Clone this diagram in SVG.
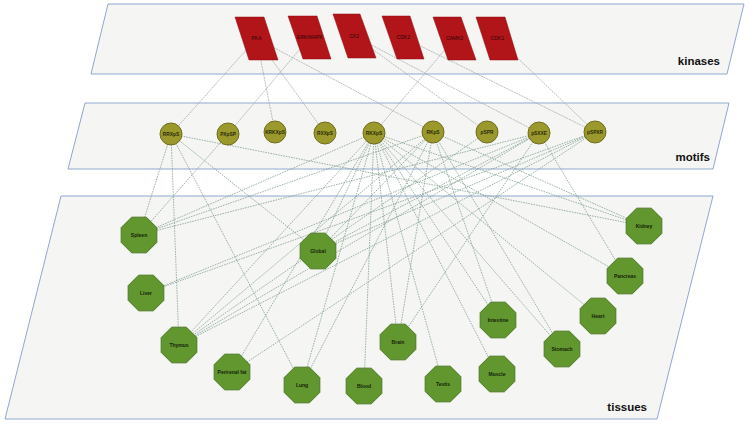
<svg xmlns="http://www.w3.org/2000/svg" xmlns:xlink="http://www.w3.org/1999/xlink" width="751" height="427" viewBox="0 0 751 427">
<style>
.plane{fill:#f5f5f3;stroke:#8fa7cf;stroke-width:1}
.layer{font-family:"Liberation Sans",Arial,sans-serif;font-weight:bold;font-size:11.5px;fill:#111;text-anchor:end}
.kin{fill:#b11419;stroke:#8e0f12;stroke-width:0.5}
.kl{font-family:"Liberation Sans",Arial,sans-serif;font-size:5px;fill:#2a0505;text-anchor:middle}
.mot{fill:#9b992c;stroke:#6f6d1e;stroke-width:1}
.ml{font-family:"Liberation Sans",Arial,sans-serif;font-weight:bold;font-size:4.8px;fill:#2a2a08;text-anchor:middle}
.tis{fill:#62962f;stroke:#4c7a26;stroke-width:1}
.tl{font-family:"Liberation Sans",Arial,sans-serif;font-weight:bold;font-size:5px;fill:#142408;text-anchor:middle}
.ke line{stroke:#9aa3a3;stroke-width:0.7;stroke-dasharray:2 0.8;fill:none}
.te line{stroke:#83a291;stroke-width:0.8;stroke-dasharray:1.6 1;fill:none}
</style>
<defs>
<polygon id="oct" points="17.83,7.39 7.39,17.83 -7.39,17.83 -17.83,7.39 -17.83,-7.39 -7.39,-17.83 7.39,-17.83 17.83,-7.39"/>
</defs>
<rect x="0" y="0" width="751" height="427" fill="#ffffff"/>
<g id="planes">
<polygon class="plane" points="108,4 744,4 727,74 91,74"/>
<polygon class="plane" points="85,103 729,103 713,169 68,169"/>
<polygon class="plane" points="61,196 713,196 657,419 5,419"/>
<text class="layer" x="720" y="65">kinases</text>
<text class="layer" x="710" y="161">motifs</text>
<text class="layer" x="647" y="411">tissues</text>
</g>
<g id="connectors">
<g class="ke">
<line x1="256.5" y1="38.5" x2="171" y2="134"/>
<line x1="256.5" y1="38.5" x2="275" y2="132"/>
<line x1="256.5" y1="38.5" x2="325" y2="133"/>
<line x1="256.5" y1="38.5" x2="433" y2="132"/>
<line x1="309.75" y1="37.5" x2="228" y2="134"/>
<line x1="354.25" y1="36" x2="487" y2="132"/>
<line x1="354.25" y1="36" x2="539" y2="133"/>
<line x1="403.25" y1="37.5" x2="595" y2="132"/>
<line x1="454.5" y1="38.5" x2="374" y2="133"/>
<line x1="497.25" y1="38.5" x2="595" y2="132"/>
</g>
<g class="te">
<line x1="171" y1="134" x2="139" y2="235"/>
<line x1="171" y1="134" x2="179" y2="345"/>
<line x1="171" y1="134" x2="302" y2="385"/>
<line x1="171" y1="134" x2="318" y2="251"/>
<line x1="171" y1="134" x2="644" y2="226"/>
<line x1="228" y1="134" x2="139" y2="235"/>
<line x1="374" y1="133" x2="139" y2="235"/>
<line x1="374" y1="133" x2="179" y2="345"/>
<line x1="374" y1="133" x2="232" y2="372"/>
<line x1="374" y1="133" x2="318" y2="251"/>
<line x1="374" y1="133" x2="302" y2="385"/>
<line x1="374" y1="133" x2="364" y2="386"/>
<line x1="374" y1="133" x2="398" y2="342"/>
<line x1="374" y1="133" x2="443" y2="384"/>
<line x1="374" y1="133" x2="497" y2="374"/>
<line x1="374" y1="133" x2="498" y2="320"/>
<line x1="374" y1="133" x2="562" y2="349"/>
<line x1="374" y1="133" x2="598" y2="316"/>
<line x1="374" y1="133" x2="625" y2="276"/>
<line x1="374" y1="133" x2="644" y2="226"/>
<line x1="433" y1="132" x2="139" y2="235"/>
<line x1="433" y1="132" x2="179" y2="345"/>
<line x1="433" y1="132" x2="318" y2="251"/>
<line x1="433" y1="132" x2="302" y2="385"/>
<line x1="433" y1="132" x2="398" y2="342"/>
<line x1="433" y1="132" x2="498" y2="320"/>
<line x1="433" y1="132" x2="562" y2="349"/>
<line x1="433" y1="132" x2="644" y2="226"/>
<line x1="487" y1="132" x2="179" y2="345"/>
<line x1="539" y1="133" x2="139" y2="235"/>
<line x1="539" y1="133" x2="318" y2="251"/>
<line x1="539" y1="133" x2="179" y2="345"/>
<line x1="539" y1="133" x2="146" y2="293"/>
<line x1="539" y1="133" x2="398" y2="342"/>
<line x1="539" y1="133" x2="625" y2="276"/>
<line x1="595" y1="132" x2="318" y2="251"/>
<line x1="595" y1="132" x2="179" y2="345"/>
<line x1="595" y1="132" x2="146" y2="293"/>
<line x1="595" y1="132" x2="232" y2="372"/>
</g>
</g>
<g id="kinases">
<g id="k-PKA"><polygon class="kin" points="235,17 264,17 278,60 249,60"/><text class="kl" x="256.5" y="40">PKA</text></g>
<g id="k-ERK"><polygon class="kin" points="288,16 317,16 331,59 303,59"/><text class="kl" x="309.75" y="39">ERK/MAPK</text></g>
<g id="k-CK2"><polygon class="kin" points="333,14 360,14 376,58 348,58"/><text class="kl" x="354.25" y="37.5">CK2</text></g>
<g id="k-CDK2"><polygon class="kin" points="382,16 410,16 424,59 397,59"/><text class="kl" x="403.25" y="39">CDK2</text></g>
<g id="k-CAMK2"><polygon class="kin" points="433,17 461,17 476,60 448,60"/><text class="kl" x="454.5" y="40">CAMK2</text></g>
<g id="k-CDK1"><polygon class="kin" points="476,17 505,17 518,60 490,60"/><text class="kl" x="497.25" y="40">CDK1</text></g>
</g>
<g id="motifs">
<g id="m-RRXpS"><circle class="mot" cx="171" cy="134" r="11"/><text class="ml" x="171" y="135.7">RRXpS</text></g>
<g id="m-PXpSP"><circle class="mot" cx="228" cy="134" r="11"/><text class="ml" x="228" y="135.7">PXpSP</text></g>
<g id="m-KRKXpS"><circle class="mot" cx="275" cy="132" r="11"/><text class="ml" x="275" y="133.7">KRKXpS</text></g>
<g id="m-RXXpS"><circle class="mot" cx="325" cy="133" r="11"/><text class="ml" x="325" y="134.7">RXXpS</text></g>
<g id="m-RKXpS"><circle class="mot" cx="374" cy="133" r="11"/><text class="ml" x="374" y="134.7">RKXpS</text></g>
<g id="m-RKpS"><circle class="mot" cx="433" cy="132" r="11"/><text class="ml" x="433" y="133.7">RKpS</text></g>
<g id="m-pSPR"><circle class="mot" cx="487" cy="132" r="11"/><text class="ml" x="487" y="133.7">pSPR</text></g>
<g id="m-pSXXE"><circle class="mot" cx="539" cy="133" r="11"/><text class="ml" x="539" y="134.7">pSXXE</text></g>
<g id="m-pSPXR"><circle class="mot" cx="595" cy="132" r="11"/><text class="ml" x="595" y="133.7">pSPXR</text></g>
</g>
<g id="tissues">
<g id="t-Spleen"><use xlink:href="#oct" href="#oct" class="tis" transform="translate(139,235)"/><text class="tl" x="139" y="236.8">Spleen</text></g>
<g id="t-Global"><use xlink:href="#oct" href="#oct" class="tis" transform="translate(318,251)"/><text class="tl" x="318" y="252.8">Global</text></g>
<g id="t-Liver"><use xlink:href="#oct" href="#oct" class="tis" transform="translate(146,293)"/><text class="tl" x="146" y="294.8">Liver</text></g>
<g id="t-Kidney"><use xlink:href="#oct" href="#oct" class="tis" transform="translate(644,226)"/><text class="tl" x="644" y="227.8">Kidney</text></g>
<g id="t-Pancreas"><use xlink:href="#oct" href="#oct" class="tis" transform="translate(625,276)"/><text class="tl" x="625" y="277.8">Pancreas</text></g>
<g id="t-Heart"><use xlink:href="#oct" href="#oct" class="tis" transform="translate(598,316)"/><text class="tl" x="598" y="317.8">Heart</text></g>
<g id="t-Thymus"><use xlink:href="#oct" href="#oct" class="tis" transform="translate(179,345)"/><text class="tl" x="179" y="346.8">Thymus</text></g>
<g id="t-Perirenal"><use xlink:href="#oct" href="#oct" class="tis" transform="translate(232,372)"/><text class="tl" x="232" y="373.8">Perirenal fat</text></g>
<g id="t-Lung"><use xlink:href="#oct" href="#oct" class="tis" transform="translate(302,385)"/><text class="tl" x="302" y="386.8">Lung</text></g>
<g id="t-Blood"><use xlink:href="#oct" href="#oct" class="tis" transform="translate(364,386)"/><text class="tl" x="364" y="387.8">Blood</text></g>
<g id="t-Brain"><use xlink:href="#oct" href="#oct" class="tis" transform="translate(398,342)"/><text class="tl" x="398" y="343.8">Brain</text></g>
<g id="t-Intestine"><use xlink:href="#oct" href="#oct" class="tis" transform="translate(498,320)"/><text class="tl" x="498" y="321.8">Intestine</text></g>
<g id="t-Stomach"><use xlink:href="#oct" href="#oct" class="tis" transform="translate(562,349)"/><text class="tl" x="562" y="350.8">Stomach</text></g>
<g id="t-Muscle"><use xlink:href="#oct" href="#oct" class="tis" transform="translate(497,374)"/><text class="tl" x="497" y="375.8">Muscle</text></g>
<g id="t-Testis"><use xlink:href="#oct" href="#oct" class="tis" transform="translate(443,384)"/><text class="tl" x="443" y="385.8">Testis</text></g>
</g>
</svg>
